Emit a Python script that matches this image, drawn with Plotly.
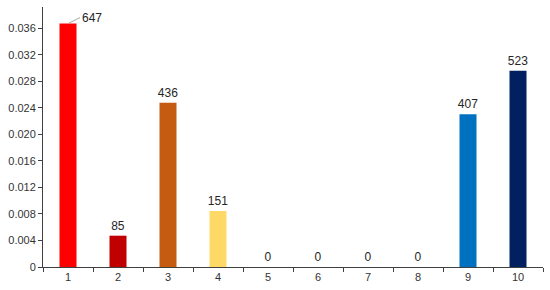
import plotly.graph_objects as go

categories = ["1", "2", "3", "4", "5", "6", "7", "8", "9", "10"]
values = [0.0367, 0.00472, 0.02475, 0.00843, 0, 0, 0, 0, 0.02304, 0.02957]
counts = [647, 85, 436, 151, 0, 0, 0, 0, 407, 523]
colors = ["#FF0000", "#C00000", "#C55A11", "#FFD966", "#FFFFFF",
          "#FFFFFF", "#FFFFFF", "#FFFFFF", "#0070C0", "#002060"]
y_ticks = [0, 0.004, 0.008, 0.012, 0.016, 0.020, 0.024, 0.028, 0.032, 0.036]
y_labels = ["0", "0.004", "0.008", "0.012", "0.016", "0.020", "0.024", "0.028", "0.032", "0.036"]

# first label sits beside its bar with a small leader line, the others go on top
bar_text = ["" if i == 0 else str(c) for i, c in enumerate(counts)]

fig = go.Figure()
fig.add_trace(go.Bar(
    x=categories, y=values,
    marker=dict(color=colors, line=dict(width=0)),
    width=0.34,
    text=bar_text, textposition="outside", cliponaxis=False,
    constraintext="none",
    textfont=dict(size=12, color="#262626"),
))

fig.add_annotation(
    x=0, y=values[0], text=str(counts[0]),
    showarrow=True, arrowhead=0, arrowwidth=1, arrowcolor="#A6A6A6",
    ax=12, ay=-6, xanchor="left", standoff=1,
    font=dict(size=12, color="#262626"),
)

fig.update_layout(
    width=550, height=290,
    margin=dict(l=43, r=7, t=7, b=23),
    plot_bgcolor="white", paper_bgcolor="white",
    font=dict(family="Liberation Sans, Arial, sans-serif", size=11, color="#333333"),
    showlegend=False,
)
fig.update_xaxes(
    type="category", tickson="boundaries",
    showline=True, linecolor="#404040", linewidth=1,
    ticks="outside", ticklen=4, tickcolor="#404040",
    showgrid=False, zeroline=False,
)
fig.update_yaxes(
    range=[0, 0.0392], tickvals=y_ticks, ticktext=y_labels,
    showline=True, linecolor="#404040", linewidth=1,
    ticks="outside", ticklen=4, tickcolor="#404040",
    showgrid=False, zeroline=False,
)

fig.write_html("out.html", config={"displayModeBar": False},
               post_script="document.body.style.margin='0';")
